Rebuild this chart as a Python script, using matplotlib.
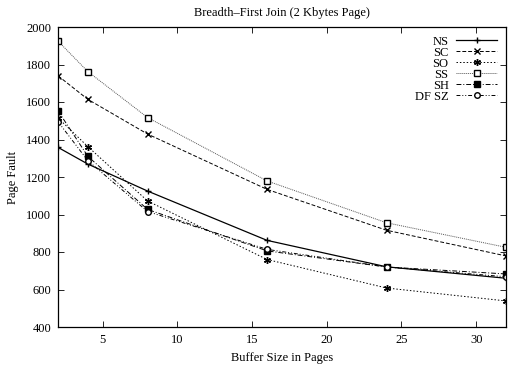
import matplotlib.pyplot as plt

plt.rcParams['font.family'] = ['Liberation Serif', 'DejaVu Serif']

buffers = [2, 4, 8, 16, 24, 32]
ns = [1358, 1269, 1125, 862, 721, 660]
sc = [1740, 1614, 1429, 1134, 916, 779]
so = [1515, 1362, 1072, 760, 608, 539]
ss = [1925, 1762, 1517, 1179, 956, 825]
sh = [1553, 1310, 1027, 806, 720, 683]
dfsz = [1495, 1287, 1016, 814, 720, 668]

fig = plt.figure(figsize=(5.09, 3.69), dpi=100)
ax = fig.add_axes([58/509, 1 - 327/369, 448/509, 300/369])

ax.plot(buffers, ns, color='black', ls='-', lw=0.9, marker='+', ms=5, label='NS')
ax.plot(buffers, sc, color='black', ls=(0, (4, 2)), lw=0.7, marker='x', ms=4, label='SC')
ax.plot(buffers, so, color='black', ls=(0, (1.5, 2)), lw=0.7, marker=(6, 2, 0), ms=5, label='SO')
ax.plot(buffers, ss, color='#555555', ls=(0, (1, 1)), lw=0.7, marker='s', ms=4,
        mfc='white', mec='black', label='SS')
ax.plot(buffers, sh, color='black', ls=(0, (5, 2, 1, 2)), lw=0.7, marker='s', ms=4, label='SH')
ax.plot(buffers, dfsz, color='black', ls=(0, (4, 2, 1, 2, 1, 2)), lw=0.7, marker='o', ms=4,
        mfc='white', mec='black', label='DF SZ')

ax.set_xlim(2, 32)
ax.set_ylim(400, 2000)
ax.set_xticks([5, 10, 15, 20, 25, 30])
ax.set_yticks(range(400, 2001, 200))
ax.tick_params(direction='in', top=True, right=True, labelsize=9, length=4, width=0.6, pad=5)
for s in ax.spines.values():
    s.set_linewidth(0.9)

ax.set_title('Breadth\u2013First Join (2 Kbytes Page)', fontsize=9, pad=8)
ax.set_xlabel('Buffer Size in Pages', fontsize=9, labelpad=4)
ax.set_ylabel('Page Fault', fontsize=9, labelpad=5)

ax.legend(loc='upper right', frameon=False, fontsize=9, markerfirst=False,
          handlelength=3.3, labelspacing=-0.08, borderaxespad=0.3, handletextpad=0.6)

fig.savefig('out.png', dpi=100)
